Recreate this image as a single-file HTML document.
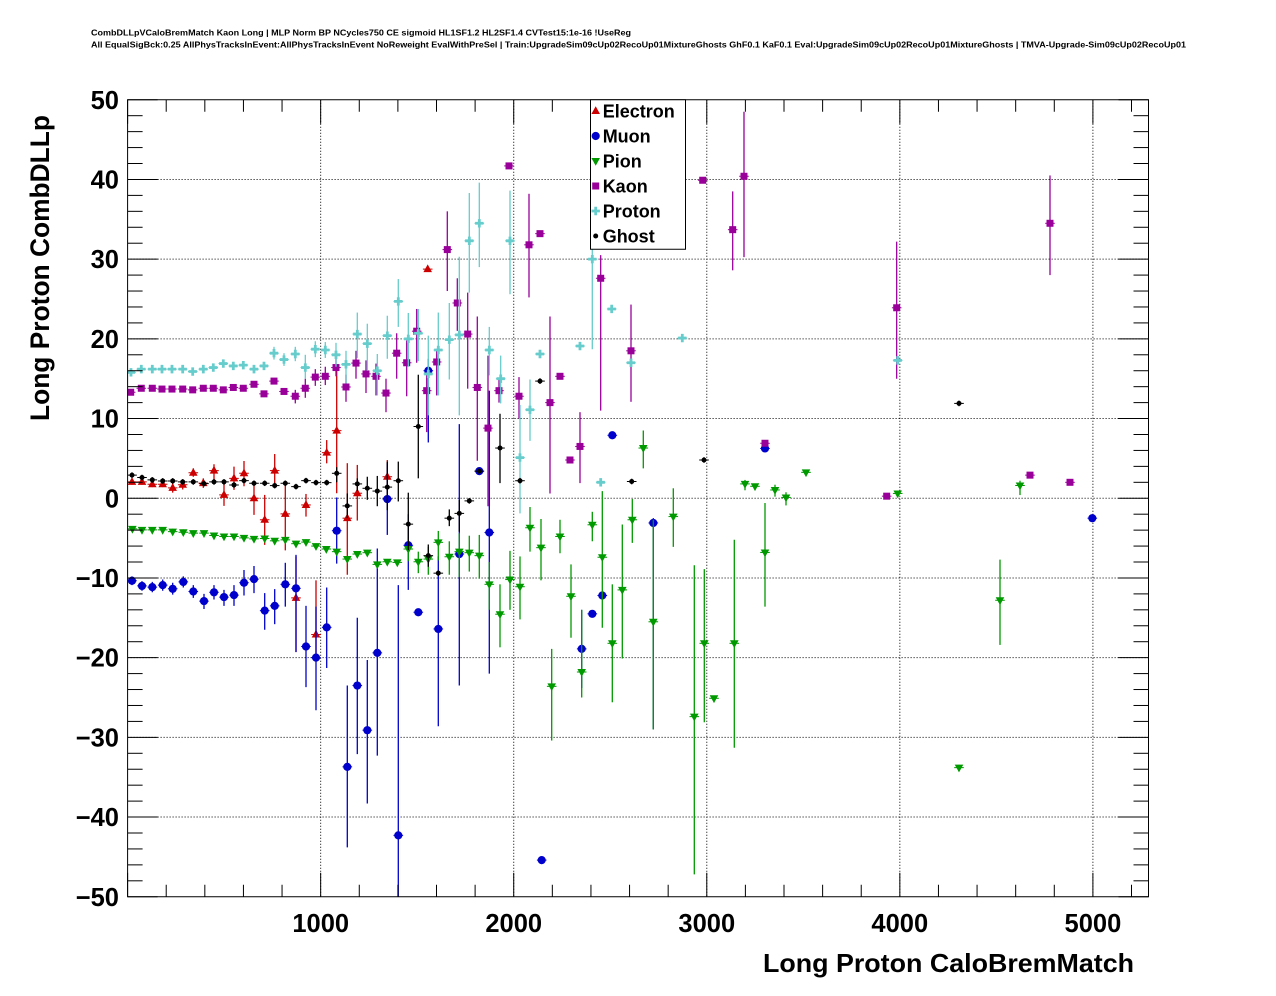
<!DOCTYPE html>
<html><head><meta charset="utf-8">
<style>
html,body{margin:0;padding:0;background:#fff;}
svg{display:block;}
text{font-family:"Liberation Sans",Arial,sans-serif;font-weight:bold;fill:#000;}
</style></head><body>
<svg id="s" width="1276" height="996" viewBox="0 0 1276 996" xmlns="http://www.w3.org/2000/svg">
<defs><clipPath id="c"><rect x="127.6" y="99.75" width="1020.9" height="797"/></clipPath></defs>
<rect width="1276" height="996" fill="#fff"/>
<text x="91" y="35.5" font-size="8.5" textLength="540" lengthAdjust="spacingAndGlyphs">CombDLLpVCaloBremMatch Kaon Long | MLP Norm BP NCycles750 CE sigmoid HL1SF1.2 HL2SF1.4 CVTest15:1e-16 !UseReg</text>
<text x="91" y="47.5" font-size="8.5" textLength="1095" lengthAdjust="spacingAndGlyphs">All EqualSigBck:0.25 AllPhysTracksInEvent:AllPhysTracksInEvent NoReweight EvalWithPreSel | Train:UpgradeSim09cUp02RecoUp01MixtureGhosts GhF0.1 KaF0.1 Eval:UpgradeSim09cUp02RecoUp01MixtureGhosts | TMVA-Upgrade-Sim09cUp02RecoUp01</text>
<g id="grid"></g>
<g id="data" clip-path="url(#c)"></g>
<g id="ticks"></g>
<rect x="127.6" y="99.75" width="1020.9" height="797" fill="none" stroke="#000" stroke-width="1"/>
<g font-size="25.5" text-anchor="end">
<text x="119" y="108.8">50</text>
<text x="119" y="188.5">40</text>
<text x="119" y="268.2">30</text>
<text x="119" y="347.9">20</text>
<text x="119" y="427.6">10</text>
<text x="119" y="507.3">0</text>
<text x="119" y="587">−10</text>
<text x="119" y="666.7">−20</text>
<text x="119" y="746.4">−30</text>
<text x="119" y="826.1">−40</text>
<text x="119" y="905.8">−50</text>
</g>
<g font-size="25.5" text-anchor="middle">
<text x="320.7" y="932">1000</text>
<text x="513.7" y="932">2000</text>
<text x="706.8" y="932">3000</text>
<text x="899.8" y="932">4000</text>
<text x="1092.9" y="932">5000</text>
</g>
<text x="763" y="972" font-size="26" textLength="371" lengthAdjust="spacingAndGlyphs">Long Proton CaloBremMatch</text>
<text transform="translate(49,421) rotate(-90)" font-size="27" textLength="306" lengthAdjust="spacingAndGlyphs">Long Proton CombDLLp</text>
<rect x="590.5" y="99.75" width="95" height="149.5" fill="#fff" stroke="#000" stroke-width="1"/>
<g id="leg"></g>
<g font-size="18">
<text x="602.7" y="117.5">Electron</text>
<text x="602.7" y="142.5">Muon</text>
<text x="602.7" y="167.5">Pion</text>
<text x="602.7" y="192.5">Kaon</text>
<text x="602.7" y="217.5">Proton</text>
<text x="602.7" y="242.5">Ghost</text>
</g>
</svg>
<script>
const NS="http://www.w3.org/2000/svg";
const L=127.6,R=1148.5,T=99.75,B=896.75;
const X=u=>L+u*0.19306, Y=v=>498.25-v*7.97;
function el(tag,a,p){const e=document.createElementNS(NS,tag);for(const k in a)e.setAttribute(k,a[k]);p.appendChild(e);return e;}
const grid=document.getElementById('grid'),ticks=document.getElementById('ticks'),data=document.getElementById('data'),leg=document.getElementById('leg');
for(let u=1000;u<=5000;u+=1000){el('line',{x1:X(u),x2:X(u),y1:T,y2:B,stroke:'#000','stroke-width':1,'stroke-dasharray':'1,2'},grid);}
for(let v=-40;v<=40;v+=10){el('line',{x1:L,x2:R,y1:Y(v),y2:Y(v),stroke:'#000','stroke-width':1,'stroke-dasharray':'1,2'},grid);}
for(let u=0;u<=5200;u+=200){const x=X(u);const len=(u%1000===0)?24:12;
 el('line',{x1:x,x2:x,y1:B,y2:B-len,stroke:'#000','stroke-width':1},ticks);
 el('line',{x1:x,x2:x,y1:T,y2:T+len,stroke:'#000','stroke-width':1},ticks);}
for(let v=-50;v<=50;v+=2){const y=Y(v);const len=(Math.abs(v)%10===0)?30:15;
 el('line',{x1:L,x2:L+len,y1:y,y2:y,stroke:'#000','stroke-width':1},ticks);
 el('line',{x1:R,x2:R-len,y1:y,y2:y,stroke:'#000','stroke-width':1},ticks);}
function marker(t,x,y,c,g){
 switch(t){
 case 'tu':el('polygon',{points:`${x},${y-4.8} ${x-4.3},${y+3} ${x+4.3},${y+3}`,fill:c},g);break;
 case 'td':el('polygon',{points:`${x},${y+4.8} ${x-4.3},${y-3} ${x+4.3},${y-3}`,fill:c},g);break;
 case 'c':el('circle',{cx:x,cy:y,r:4.1,fill:c},g);break;
 case 'sq':el('rect',{x:x-3.5,y:y-3.5,width:7,height:7,fill:c},g);break;
 case 'cr':el('path',{d:`M${x-1.4},${y-4.2}h2.8v2.8h2.8v2.8h-2.8v2.8h-2.8v-2.8h-2.8v-2.8h2.8z`,fill:c},g);break;
 case 'g':el('circle',{cx:x,cy:y,r:2.5,fill:c},g);break;
 }}
function series(pts,t,c){
 for(const p of pts){const x=p[0],v=p[1];const up=p.length>2?p[2]:v+0.35,dn=p.length>3?p[3]:v-0.35;
  el('line',{x1:x,x2:x,y1:Y(up),y2:Y(dn),stroke:c,'stroke-width':1.3},data);
  el('line',{x1:x-4.8,x2:x+4.8,y1:Y(v),y2:Y(v),stroke:c,'stroke-width':1},data);}
 for(const p of pts){marker(t,p[0],Y(p[1]),c,data);}
}
const ele=[[132,2.05],[142,2.05],[152.3,1.75],[162.7,1.75],[172.7,1.3,1.9,0.7],[182.7,1.7,2.3,1.1],[193.3,3.2,3.75,2.7],[203.3,1.9,2.5,1.3],[214,3.47,4.26,2.21],[224,0.42,1.8,-0.96],[234,2.5,3.97,1.05],[244,3.13,4.68,1.5],[254,0,1.8,-2.09],[264.7,-2.7,0.42,-5.85],[274.7,3.47,5.55,1.67],[285.3,-1.96,1.8,-6.54],[296,-12.5,-7.3,-19.3],[306,-0.84,0.54,-2.3],[316,-17.1,-10.3,-20],[326.7,5.72,7.3,4.38],[336.7,8.48,16.7,0.63],[347.3,-2.5,4.4,-9.6],[357.3,0.63,4.18,-2.8],[387.3,2.7,4.8,0],[427.7,28.75]];
const muo=[[132,-10.35,-9.8,-10.9],[142,-11.0,-10.4,-11.6],[152.3,-11.15,-10.5,-11.8],[162.7,-10.9,-10.2,-11.6],[172.7,-11.36,-10.6,-12.1],[183.3,-10.5,-9.8,-11.2],[193.3,-11.7,-10.9,-12.5],[204,-12.9,-12.0,-13.9],[214,-11.8,-10.9,-12.7],[224,-12.4,-11.5,-13.5],[234,-12.15,-10.9,-13.5],[244,-10.6,-9.0,-12.2],[254,-10.15,-8.5,-11.9],[264.7,-14.1,-11.9,-16.5],[274.7,-13.5,-11.4,-15.8],[285.3,-10.8,-8.1,-13.6],[296,-11.3,-7.1,-19.3],[306,-18.6,-13.5,-23.7],[316,-20.0,-13.6,-26.6],[326.7,-16.2,-11.2,-21.3],[336.7,-4.07,0.1,-8.2],[347.3,-33.7,-23.5,-43.8],[357.3,-23.5,-15,-32.1],[367.3,-29.1,-20.3,-38.3],[377.3,-19.4,-6.3,-32.3],[387.3,-0.1,4.4,-4.6],[398.3,-42.3,-10.9,-52],[408.3,-5.9,-2,-11.5],[418.3,-14.3],[428.3,16.0,17.5,7],[438.3,-16.4,-7.3,-28.6],[459.3,-7.0,9.3,-23.5],[479.3,3.4],[489.3,-4.3,13.5,-22.0],[541.7,-45.4],[581.7,-18.9,-14,-23.8],[592.3,-14.5],[602.3,-12.2],[612.3,7.9],[653.3,-3.1,-2.5,-29],[765,6.25],[1092.3,-2.5]];
const pio=[[132.4,-3.84],[142,-3.97],[152.3,-3.97],[162.7,-3.97],[172.7,-4.18],[183.3,-4.26],[193.3,-4.38],[204,-4.38],[214,-4.68],[224,-4.8],[234,-4.8],[244,-4.97],[254,-5.09],[264.7,-5.05],[274.7,-5.34],[285.3,-5.22],[296,-5.7],[306,-5.5],[316,-6.0],[326.3,-6.37],[336.7,-6.7],[347.3,-7.63],[357.3,-7.0],[367.3,-6.83],[377.3,-8.3],[387.3,-7.97],[397.3,-8.05],[408.3,-6.37,-5.5,-7.9],[418.3,-7.97,-6.7,-9.4],[428.3,-7.63,-6.1,-9.6],[438.3,-5.53,-4.1,-7.8],[449.3,-7.34,-5.4,-9.6],[459.3,-6.7,-4.4,-9.9],[469.3,-6.83,-4.7,-9.2],[479.3,-7.2,-4.6,-10.1],[489.3,-10.8,-8,-14],[500,-14.55,-10.8,-18.7],[510,-10.2,-6.6,-14.0],[520,-11.1,-7.3,-15.2],[530,-3.7,-1.1,-6.7],[541,-6.2,-2.6,-10.3],[551.7,-23.6,-18.9,-30.4],[560,-4.8,-2.7,-6.9],[571,-12.3,-8.3,-17.5],[581.7,-21.8,-14,-25],[592.3,-3.33,-1.7,-5.4],[602.3,-7.4,0.9,-16.25],[612.3,-18.2,-10.8,-25.6],[622.3,-11.5,-3.3,-20.1],[632.3,-2.7,-0.1,-5.6],[643.3,6.3,8.5,3.75],[653.3,-15.5,-2.7,-29.0],[673.3,-2.3,1.25,-6.1],[694.3,-27.4,-8.4,-47.2],[704.3,-18.2,-8.9,-28.1],[714,-25.1],[734.3,-18.2,-5.2,-31.3],[745,1.8,2.3,1],[755,1.5],[765,-6.8,-0.6,-13.6],[775,1.04,1.7,0.2],[786,0.1,0.75,-0.9],[806,3.25],[897.7,0.6],[959,-33.8],[1000,-12.8,-7.7,-18.4],[1020,1.6,2.2,0.4]];
const kao=[[130.7,13.3],[141.3,13.8],[152.3,13.8],[162,13.7],[172,13.7],[182.7,13.7],[192.7,13.6],[203.3,13.8],[213.3,13.8],[223.3,13.6],[233.3,13.9],[243.3,13.8],[254,14.3],[264,13.1],[274,14.7],[284,13.4],[295.3,12.8,13.6,11.9],[305.3,13.8,15.0,12.6],[315.3,15.2,16.2,14.1],[325.3,15.3,16.5,14.2],[336,16.4,17.5,15.3],[346,13.96,15.5,12.1],[356,16.96,18.5,15.0],[366,15.6,17.3,13.2],[376,15.3,16.9,12.9],[386,13.2,15,10.8],[396.7,18.2,20.7,15],[406.7,17.0,19.8,12.8],[416.7,20.96,23.75,17],[426.7,13.5,15.8,8.3],[436.7,17.1,18.75,12.9],[447.3,31.2,36,26],[457.3,24.5,27.6,21],[467.7,20.6,25.8,13.75],[477.3,13.9,22.8,4.7],[488,8.8,17.9,-1],[499,13.5,15,12],[509,41.7],[519,12.8,15.2,10],[529,31.8,38.2,25.2],[540,33.2],[550,12.0,22.8,0.6],[560,15.3],[570,4.8],[580,6.5,10.8,1.9],[600.7,27.6,30.5,11.0],[631,18.5,24.3,12.1],[702.7,39.9],[732.7,33.7,38.5,28.6],[744,40.4,48.5,30.25],[765,6.9],[886.7,0.26],[896.7,23.9,32.2,15.0],[1030,2.9],[1050,34.5,40.5,28.0],[1070,2.0]];
const pro=[[131,15.8],[141.3,16.2],[152.3,16.2],[162,16.2],[172,16.2],[182.7,16.2],[192.7,15.9],[203.3,16.2],[213.3,16.4],[223.3,16.9],[233.3,16.6],[243.3,16.7],[254,16.2],[264,16.6],[274,18.2,19,17.4],[284,17.4,18.2,16.6],[295.3,18.1,19,17.2],[305.3,16.4,18,15],[315.3,18.7,19.7,17.7],[325.3,18.6,19.6,17.6],[336,18.0,19.5,16.5],[346,16.8,18.5,14.4],[357.3,20.6,23.3,17.6],[367.3,19.4,21.9,16.0],[377.3,16.0,18.1,12.9],[387.3,20.4,22.9,17.5],[398.3,24.7,27.5,21.5],[408.3,20.0,23.25,16.5],[418.3,20.7,23.75,17.2],[428.3,15.6,20.4,10.4],[438.3,18.6,23.3,12.9],[449.3,19.9,24.5,14.9],[459.3,20.5,30.3,10.4],[469.3,32.3,38.3,25.8],[479.3,34.5,39.6,29.0],[489.3,18.6,21.5,15.4],[500.7,15.0,17.9,11.9],[510,32.3,38.6,25.6],[520,5.1,11.7,-1.9],[530,11.1,14.9,7.2],[540,18.1],[580,19.1],[592.3,30.0,41,18.7],[600.7,2.0],[611.7,23.75],[631,17.0],[682.3,20.1],[897.7,17.3]];
const gho=[[132,2.9],[142,2.6],[152.3,2.3],[162.7,2.17],[172.7,2.17],[182.7,2.05],[193.3,2.05],[204,1.84],[214,2.05],[224,2.05],[234,1.67],[244,2.21],[254,1.88],[264.7,1.88],[274.7,1.59],[285.3,1.88],[296,1.46],[306,2.21],[316,1.96],[326.7,1.96],[336.7,3.13,3.9,2.0],[347.3,-0.96,0.6,-2.5],[357.3,1.8,2.5,0.9],[367.3,1.25,2.7,-0.2],[377.3,0.9,2.8,-1.0],[387.3,1.4,4.6,-1.5],[398.3,2.2,4.6,-0.4],[408.3,-3.25,0.7,-6.5],[418.3,9.0,15.5,2.5],[428.3,-7.2,-5.8,-8.6],[438.3,-9.4],[449.3,-2.5,-1.4,-3.5],[459.3,-1.9,-0.2,-4.2],[469.3,-0.33],[479.3,3.4],[500,6.3,10.6,1.9],[520,2.2],[540,14.7],[631.7,2.1],[704,4.8],[959,11.9]];
series(ele,'tu','#cc0000');
series(muo,'c','#0000cc');
series(pio,'td','#009900');
series(kao,'sq','#990099');
series(pro,'cr','#66cccc');
series(gho,'g','#000000');
marker('tu',595.7,111,'#cc0000',leg);
marker('c',595.7,136,'#0000cc',leg);
marker('td',595.7,161,'#009900',leg);
marker('sq',595.7,186,'#990099',leg);
marker('cr',595.7,211,'#66cccc',leg);
marker('g',595.7,236,'#000000',leg);
</script>
</body></html>
